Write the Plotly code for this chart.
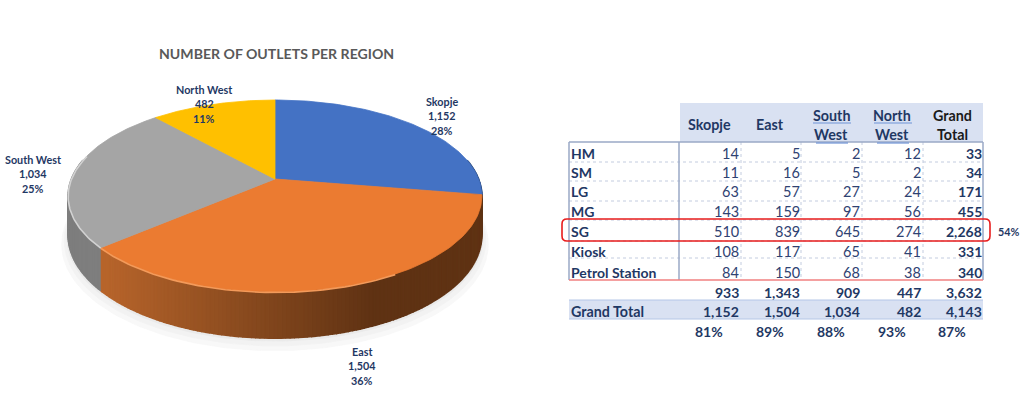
import numpy as np
import plotly.graph_objects as go

W, H = 1024, 394
TITLE = "NUMBER OF OUTLETS PER REGION"

# ---- data -------------------------------------------------------------
regions = ["Skopje", "East", "South West", "North West"]
region_values = [1152, 1504, 1034, 482]
region_value_labels = ["1,152", "1,504", "1,034", "482"]
region_pct_labels = ["28%", "36%", "25%", "11%"]

row_names = ["HM", "SM", "LG", "MG", "SG", "Kiosk", "Petrol Station"]
skopje = [14, 11, 63, 143, 510, 108, 84]
east = [5, 16, 57, 159, 839, 117, 150]
south_west = [2, 5, 27, 97, 645, 65, 68]
north_west = [12, 2, 24, 56, 274, 41, 38]
grand_total = ["33", "34", "171", "455", "2,268", "331", "340"]
subtotal_row = ["933", "1,343", "909", "447", "3,632"]
grand_total_row = ["1,152", "1,504", "1,034", "482", "4,143"]
pct_row = ["81%", "89%", "88%", "93%", "87%"]
sg_share = "54%"

# ---- styles / layout --------------------------------------------------
NAVY = "#1F3864"
FONT = "Lato"
slice_colors = ["#4472C4", "#EB7B31", "#A5A5A5", "#FFC000"]
wall_left = {0: "#2F5088", 1: "#B8652B", 2: "#8E8E8E", 3: "#A88000"}
wall_right = {0: "#2A4675", 1: "#5F3213", 2: "#6F6F6F", 3: "#A88000"}
rim_colors = {1: "#F39A5A", 2: "#D2D2D2"}

CX, CY, RX, RY, K, DEPTH = 275, 179, 203.6, 93, 0.177, 38


def project(theta_deg, scale=1.0):
    t = np.radians(theta_deg)
    u, v = np.sin(t) * scale, np.cos(t) * scale
    s = 1 / (1 + K * v)
    return CX + RX * u * s, CY - RY * v * s, DEPTH * s


def hexmix(a, b, t):
    ca = [int(a[i:i + 2], 16) for i in (1, 3, 5)]
    cb = [int(b[i:i + 2], 16) for i in (1, 3, 5)]
    return "#%02x%02x%02x" % tuple(round(x + (y - x) * t) for x, y in zip(ca, cb))


fig = go.Figure()


def poly(xs, ys, color, line=None, width=0.8):
    fig.add_trace(go.Scatter(x=list(xs), y=list(ys), mode="lines", fill="toself",
                             fillcolor=color, hoverinfo="skip", showlegend=False,
                             line=dict(color=line or color, width=width)))


# soft ground shadow
theta = np.linspace(0, 360, 241)
for grow, off, col in [(1.03, 8, "#F8F8F8"), (1.018, 5, "#F2F2F2"), (1.006, 2, "#EAEAEA")]:
    x, y, d = project(theta, grow)
    poly(x, y + d + off, col)

# slice boundaries come from the values
shares = np.array(region_values, dtype=float) / sum(region_values)
edges = np.concatenate([[0], np.cumsum(shares) * 360])

# side wall: each strip overlaps its neighbour
for i in range(len(regions)):
    a0, a1 = max(edges[i], 78), min(edges[i + 1], 282)
    if a1 <= a0:
        continue
    steps = np.arange(a0, a1, 1.0).tolist() + [a1]
    for p, q in zip(steps[:-1], steps[1:]):
        tt = np.linspace(p, q, 3)
        x, y, d = project(tt)
        if i == 1:
            t = np.clip((x.mean() - 102) / (373 - 102), 0, 1)
        else:
            t = 0.5
        poly(np.r_[x, x[::-1]], np.r_[y, (y + d)[::-1]], hexmix(wall_left[i], wall_right[i], t), width=1.6)

# top faces
for i in range(len(regions)):
    tt = np.linspace(edges[i], edges[i + 1], 90)
    x, y, _ = project(tt)
    poly(np.r_[CX, x, CX], np.r_[CY, y, CY], slice_colors[i])

# bevel highlight along the front rim
for i, col in rim_colors.items():
    a0, a1 = edges[i], edges[i + 1]
    if i == 1:
        a0 = 150
    else:
        a1 = 285
    x, y, _ = project(np.linspace(a0, a1, 60))
    fig.add_trace(go.Scatter(x=x, y=y + 0.5, mode="lines", hoverinfo="skip", showlegend=False,
                             line=dict(color=col, width=1.6)))

annotations = []


def text(x, y, s, size=14.5, color=NAVY, bold=True, anchor="center"):
    # annotations carry about 1.5 px of padding; compensate at the anchored edge
    nudge = {"left": -1.5, "right": 1.5, "center": 0}[anchor]
    annotations.append(dict(x=x + nudge, y=y, xref="x", yref="y", text=f"<b>{s}</b>" if bold else s,
                            showarrow=False, xanchor=anchor, yanchor="middle",
                            font=dict(family=FONT, size=size, color=color)))


text(276, 53, TITLE, size=14.1, color="#595959")

label_pos = [(442, 101), (362, 351), (33, 159), (204, 89)]
for i, (lx, ly) in enumerate(label_pos):
    for j, s in enumerate([regions[i], region_value_labels[i], region_pct_labels[i]]):
        text(lx, ly + j * 14.5, s, size=10.8)

# ---- table ------------------------------------------------------------
shapes = []


def rect(x0, y0, x1, y1, fill=None, line=None, width=1):
    shapes.append(dict(type="rect", xref="x", yref="y", x0=x0, y0=y0, x1=x1, y1=y1,
                       fillcolor=fill or "rgba(0,0,0,0)", layer="below",
                       line=dict(color=line or "rgba(0,0,0,0)", width=width if line else 0)))


def hv(x0, y0, x1, y1, color, width=1, dash="solid"):
    shapes.append(dict(type="line", xref="x", yref="y", x0=x0, y0=y0, x1=x1, y1=y1,
                       line=dict(color=color, width=width, dash=dash)))


BAND = "#D9E1F2"
FRAME = "#9AA8C6"
col_right = [739, 800, 860, 921, 982]
col_mid = [709, 770, 831, 892, 952]
col_div = [741, 801, 862, 923]
row_y = [153, 172, 191, 211, 231, 251, 272]
row_lines = [162, 181, 201, 220, 241, 258]
Y_SUB, Y_GT, Y_PCT = 292, 311, 331

rect(680, 103, 983, 142, fill=BAND)
rect(569, 300, 983, 319, fill=BAND)
for ly in row_lines:
    hv(569, ly, 983, ly, "#C3CCDF", 1, "dot")
for lx in col_div:
    hv(lx, 142, lx, 280, "#C3CCDF", 1, "dot")
hv(569, 142, 983, 142, FRAME, 1.5)
hv(569, 142, 569, 280, FRAME, 1.5)
hv(679, 142, 679, 280, FRAME, 1.5)
hv(983, 142, 983, 280, FRAME, 1.5)
hv(569, 280, 983, 280, "#F08080", 1.5)
hv(569, 300, 983, 300, "#B4C6E7", 1)
hv(569, 319, 983, 319, "#B4C6E7", 1)

# red highlight round the SG row
x0, y0, x1, y1, r = 562, 219, 990, 241, 5
shapes.append(dict(type="path", xref="x", yref="y",
                   path=f"M{x0+r},{y0} L{x1-r},{y0} Q{x1},{y0} {x1},{y0+r} L{x1},{y1-r} Q{x1},{y1} {x1-r},{y1} "
                        f"L{x0+r},{y1} Q{x0},{y1} {x0},{y1-r} L{x0},{y0+r} Q{x0},{y0} {x0+r},{y0} Z",
                   line=dict(color="#E81C1C", width=1.6)))

# headers
HEAD = 14.3
text(col_mid[0] + 0.5, 124, "Skopje", size=HEAD)
text(col_mid[1], 124, "East", size=HEAD)
for mid, word in [(col_mid[2], "South"), (col_mid[3], "North")]:
    text(mid, 115, word, size=HEAD)
    text(mid, 134, "West", size=HEAD)
    hv(mid - 18, 123, mid + 20, 123, "#6E93D6", 1.2)
    hv(mid - 15, 143, mid + 17, 143, "#6E93D6", 1.2)
text(col_mid[4], 115, "Grand", size=HEAD, color="#1A1A1A")
text(col_mid[4], 134, "Total", size=HEAD, color="#1A1A1A")

# body
columns = [skopje, east, south_west, north_west]
for r_i, name in enumerate(row_names):
    text(570, row_y[r_i], name, anchor="left", size=14)
    for c_i, col in enumerate(columns):
        text(col_right[c_i], row_y[r_i], str(col[r_i]), bold=False, anchor="right", size=14.5, color="#2F4272")
    text(col_right[4], row_y[r_i], grand_total[r_i], anchor="right", size=14)

text(1009, 231, sg_share, size=10.8)
text(570, Y_GT, "Grand Total", anchor="left", size=14.3)
for c_i in range(5):
    text(col_right[c_i], Y_SUB, subtotal_row[c_i], anchor="right", size=14)
    text(col_right[c_i], Y_GT, grand_total_row[c_i], anchor="right", size=14)
    text(col_mid[c_i], Y_PCT, pct_row[c_i], size=14)

fig.update_layout(
    width=W, height=H, margin=dict(l=0, r=0, t=0, b=0),
    paper_bgcolor="white", plot_bgcolor="white", showlegend=False,
    xaxis=dict(range=[0, W], visible=False, fixedrange=True),
    yaxis=dict(range=[H, 0], visible=False, fixedrange=True),
    annotations=annotations, shapes=shapes,
)
fig.write_html("out.html", config={"displayModeBar": False},
               post_script="document.body.style.margin='0';document.documentElement.style.overflow='hidden';")
